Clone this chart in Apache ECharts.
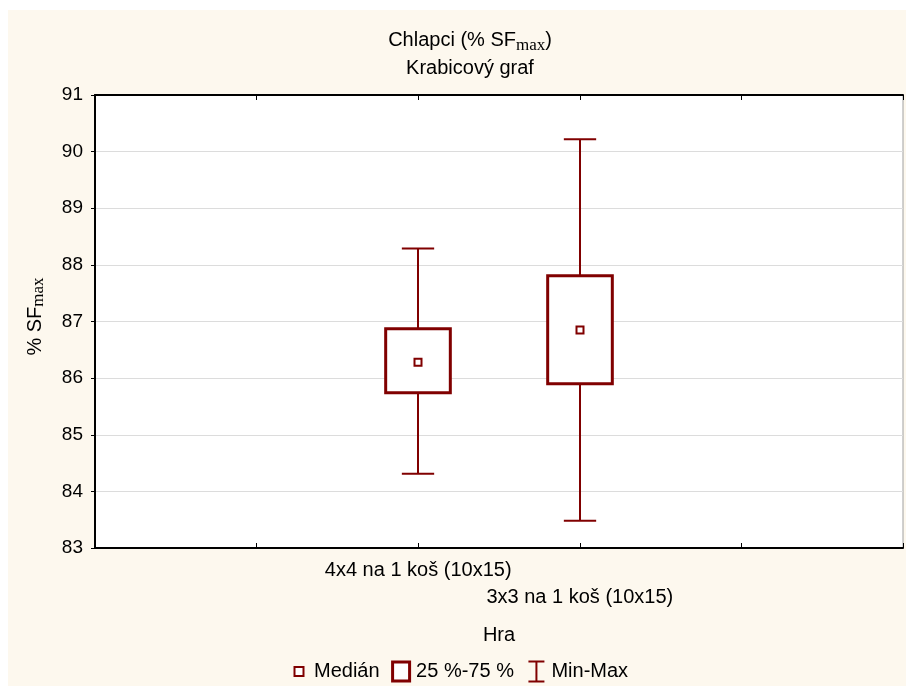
<!DOCTYPE html>
<html>
<head>
<meta charset="utf-8">
<script src="https://cdn.jsdelivr.net/npm/echarts@6/dist/echarts.min.js"></script>
<style>
  html, body { margin: 0; padding: 0; background: #ffffff; }
  #wrap { position: relative; width: 906px; height: 686px; background: #ffffff; }
  #bg { position: absolute; left: 8px; top: 10px; width: 898px; height: 676px; background: #fdf8ee; }
  #chart { position: absolute; left: 0; top: 0; width: 906px; height: 686px; }
</style>
</head>
<body>
<div id="wrap"><div id="bg"></div><div id="chart"></div></div>
<script>
// ---- data ----
const categories = ['4x4 na 1 koš (10x15)', '3x3 na 1 koš (10x15)'];
const minVals    = [84.31, 83.48];
const q1Vals     = [85.74, 85.90];
const medianVals = [86.28, 86.85];
const q3Vals     = [86.87, 87.81];
const maxVals    = [88.29, 90.22];
const yTicks     = [83, 84, 85, 86, 87, 88, 89, 90, 91];
const seriesNames = ['Medián', '25 %-75 %', 'Min-Max'];

// ---- build ----
const C = '#800000';
const FONT = "'Liberation Sans', Arial, sans-serif";
const SERIF = "'Liberation Serif', 'Times New Roman', serif";
const axisCats = ['', ''].concat(categories, ['', '']);

const whiskerData = categories.map((c, i) => [c, minVals[i], maxVals[i]]);
const boxData = categories.map((c, i) => [c, q1Vals[i], q3Vals[i]]);
const medData = categories.map((c, i) => [c, medianVals[i]]);

const chart = echarts.init(document.getElementById('chart'), null, { renderer: 'canvas' });

const option = {
  backgroundColor: 'transparent',
  animation: false,
  textStyle: { fontFamily: FONT, color: '#000', fontWeight: 'normal' },
  title: {
    left: 465,
    top: 21,
    textAlign: 'center',
    text: '{a|Chlapci (% SF}{s|max}{a|)}\n{a|Krabicový graf}',
    textStyle: {
      fontWeight: 'normal',
      rich: {
        a: { fontFamily: FONT, fontSize: 20, fontWeight: 'normal', lineHeight: 28, color: '#000' },
        s: { fontFamily: SERIF, fontSize: 17, fontWeight: 'normal', lineHeight: 17, verticalAlign: 'bottom', color: '#000' }
      }
    }
  },
  grid: {
    left: 95, right: 1, top: 95, bottom: 138,
    show: true, backgroundColor: '#ffffff', borderColor: '#a0a0a0', borderWidth: 1
  },
  legend: {
    left: 283,
    top: 653,
    itemWidth: 20,
    itemHeight: 22,
    itemGap: 10,
    textStyle: { fontFamily: FONT, fontSize: 20, color: '#000' },
    data: [
      { name: seriesNames[0], icon: 'path://M0,0M20,22M5.5,6.5h9v9h-9Z',
        itemStyle: { color: '#fff', borderColor: C, borderWidth: 2 } },
      { name: seriesNames[1], icon: 'path://M0,0M20,22M1.5,1.5h17v19h-17Z',
        itemStyle: { color: '#fff', borderColor: C, borderWidth: 3 } },
      { name: seriesNames[2], icon: 'path://M0,0M20,22M2,1h16M10,1v20M2,21h16',
        itemStyle: { color: 'none', borderColor: C, borderWidth: 2 } }
    ]
  },
  xAxis: [
    {
      type: 'category',
      data: axisCats,
      boundaryGap: false,
      position: 'bottom',
      name: 'Hra',
      nameLocation: 'middle',
      nameGap: 77,
      nameTextStyle: { fontFamily: FONT, fontSize: 20, color: '#000' },
      axisLine: { lineStyle: { color: '#000', width: 2 } },
      axisTick: { inside: true, length: 5, interval: 0, lineStyle: { color: '#000', width: 1 } },
      axisLabel: {
        interval: 0, margin: 9, fontFamily: FONT, fontSize: 20, lineHeight: 27, color: '#000',
        formatter: function (v) {
          const j = categories.indexOf(v);
          if (j < 0) return '';
          return (j % 2 === 1 ? '\n' : '') + v;
        }
      },
      splitLine: { show: false }
    },
    {
      type: 'category',
      data: axisCats,
      boundaryGap: false,
      position: 'top',
      axisLine: { lineStyle: { color: '#000', width: 2 } },
      axisTick: { inside: true, length: 5, interval: 0, lineStyle: { color: '#000', width: 1 } },
      axisLabel: { show: false },
      splitLine: { show: false }
    }
  ],
  yAxis: {
    type: 'value',
    min: yTicks[0],
    max: yTicks[yTicks.length - 1],
    interval: 1,
    name: '{a|% SF}{s|max}',
    nameLocation: 'middle',
    nameGap: 48,
    nameRotate: 90,
    nameTextStyle: {
      padding: [0, 0, 0, 10],
      rich: {
        a: { fontFamily: FONT, fontSize: 20, fontWeight: 'normal', lineHeight: 24, color: '#000' },
        s: { fontFamily: SERIF, fontSize: 17, fontWeight: 'normal', lineHeight: 17, verticalAlign: 'bottom', color: '#000' }
      }
    },
    axisLine: { show: true, lineStyle: { color: '#000', width: 2 } },
    axisTick: { show: true, inside: false, length: 4, lineStyle: { color: '#000', width: 1 } },
    axisLabel: { margin: 12, fontFamily: FONT, fontSize: 19, color: '#000' },
    splitLine: { show: true, lineStyle: { color: '#dcdcdc', width: 1 } }
  },
  series: [
    {
      name: seriesNames[2],
      type: 'custom',
      xAxisIndex: 0,
      z: 2,
      itemStyle: { color: C },
      encode: { x: 0, y: [1, 2] },
      data: whiskerData,
      renderItem: function (params, api) {
        const x = api.value(0);
        const pMin = api.coord([x, api.value(1)]);
        const pMax = api.coord([x, api.value(2)]);
        const band = api.size([1, 0])[0];
        const half = band * 0.1;
        const cx = Math.round(pMin[0]);
        const st = { stroke: C, lineWidth: 2, fill: null };
        return {
          type: 'group',
          children: [
            { type: 'line', shape: { x1: cx, y1: pMin[1], x2: cx, y2: pMax[1] }, style: st },
            { type: 'line', shape: { x1: cx - half, y1: pMin[1], x2: cx + half, y2: pMin[1] }, style: st },
            { type: 'line', shape: { x1: cx - half, y1: pMax[1], x2: cx + half, y2: pMax[1] }, style: st }
          ]
        };
      }
    },
    {
      name: seriesNames[1],
      type: 'custom',
      xAxisIndex: 0,
      z: 3,
      itemStyle: { color: C },
      encode: { x: 0, y: [1, 2] },
      data: boxData,
      renderItem: function (params, api) {
        const x = api.value(0);
        const p1 = api.coord([x, api.value(1)]);
        const p3 = api.coord([x, api.value(2)]);
        const band = api.size([1, 0])[0];
        const half = band * 0.2;
        const cx = Math.round(p1[0]);
        return {
          type: 'rect',
          shape: { x: cx - half, y: p3[1], width: half * 2, height: p1[1] - p3[1] },
          style: { fill: '#ffffff', stroke: C, lineWidth: 3 }
        };
      }
    },
    {
      name: seriesNames[0],
      type: 'custom',
      xAxisIndex: 0,
      z: 4,
      itemStyle: { color: C },
      encode: { x: 0, y: 1 },
      data: medData,
      renderItem: function (params, api) {
        const x = api.value(0);
        const p = api.coord([x, api.value(1)]);
        const cx = Math.round(p[0]);
        const s = 7;
        return {
          type: 'rect',
          shape: { x: cx - s / 2, y: p[1] - s / 2, width: s, height: s },
          style: { fill: '#ffffff', stroke: C, lineWidth: 2 }
        };
      }
    }
  ]
};
chart.setOption(option);
</script>
</body>
</html>
